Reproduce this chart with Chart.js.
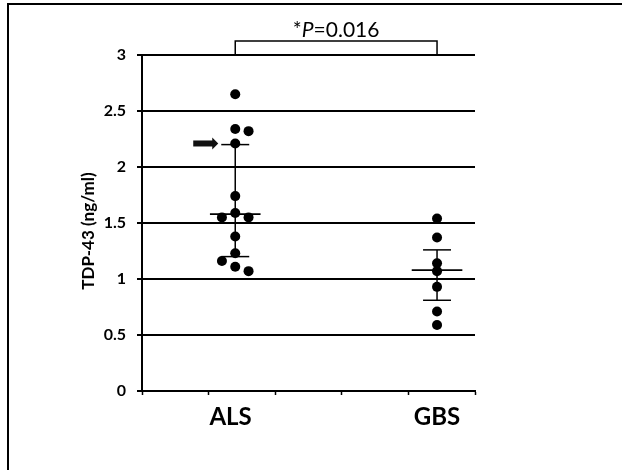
<!DOCTYPE html>
<html>
<head>
<meta charset="utf-8">
<script src="https://cdn.jsdelivr.net/npm/chart.js@4.4.1/dist/chart.umd.min.js"></script>
<style>
  html, body { margin: 0; padding: 0; background: #ffffff; }
  #wrap { width: 631px; height: 470px; position: relative; }
</style>
</head>
<body>
<div id="wrap"><canvas id="c" width="631" height="470"></canvas></div>
<script>
// ---- data ----
const categories = ['ALS', 'GBS'];
const categoryPos = [1.4, 4.43];      // x position of each group on the 0..5 axis
const labelPos = [1.33, 4.43];        // where each group label sits
const alsValues = [2.65, 2.34, 2.32, 2.21, 1.74, 1.59, 1.55, 1.55, 1.38, 1.23, 1.16, 1.11, 1.07];
const alsSpread = [0, 0, 1, 0, 0, 0, -1, 1, 0, 0, -1, 0, 1];
const gbsValues = [1.54, 1.37, 1.14, 1.07, 0.93, 0.71, 0.59];
const gbsSpread = [0, 0, 0, 0, 0, 0, 0];
const centerLine = [1.58, 1.08];
const lowerBar = [1.20, 0.81];
const upperBar = [2.20, 1.26];
const yTicks = [0, 0.5, 1, 1.5, 2, 2.5, 3];
const xTicks = [0, 1, 2, 3, 4, 5];
const yTitle = 'TDP-43 (ng/ml)';
const pValue = '0.016';
const arrowValue = 2.21;

// ---- build datasets ----
const SPREAD = 0.2, MED_HALF = 0.38, CAP_HALF = 0.21;
const groups = [
  { values: alsValues, spread: alsSpread },
  { values: gbsValues, spread: gbsSpread }
];
const pointData = [];
groups.forEach((g, gi) => {
  g.values.forEach((v, i) => pointData.push({ x: categoryPos[gi] + g.spread[i] * SPREAD, y: v }));
});

const datasets = [{
  type: 'scatter',
  data: pointData,
  backgroundColor: '#000',
  borderColor: '#000',
  pointRadius: 5,
  pointHoverRadius: 5,
  borderWidth: 0
}];
function seg(a, b, w) {
  datasets.push({
    type: 'line',
    data: [a, b],
    borderColor: '#000',
    borderWidth: w,
    pointRadius: 0,
    fill: false,
    showLine: true
  });
}
categoryPos.forEach((cx, gi) => {
  seg({ x: cx, y: lowerBar[gi] }, { x: cx, y: upperBar[gi] }, 1.5);
  seg({ x: cx - CAP_HALF, y: upperBar[gi] }, { x: cx + CAP_HALF, y: upperBar[gi] }, 1.5);
  seg({ x: cx - CAP_HALF, y: lowerBar[gi] }, { x: cx + CAP_HALF, y: lowerBar[gi] }, 1.5);
  seg({ x: cx - MED_HALF, y: centerLine[gi] }, { x: cx + MED_HALF, y: centerLine[gi] }, 1.8);
});

const FONT = 'Lato, "Open Sans", "DejaVu Sans", sans-serif';

const decor = {
  id: 'decor',
  beforeDraw(chart) {
    const ctx = chart.ctx;
    ctx.save();
    ctx.fillStyle = '#fff';
    ctx.fillRect(0, 0, chart.width, chart.height);
    ctx.strokeStyle = '#000';
    ctx.lineWidth = 2;
    ctx.beginPath();
    ctx.moveTo(8, 470);
    ctx.lineTo(8, 4);
    ctx.lineTo(622, 4);
    ctx.stroke();
    ctx.restore();
  },
  afterDraw(chart) {
    const ctx = chart.ctx;
    const xs = chart.scales.x, ys = chart.scales.y;
    ctx.save();
    // y-axis title
    ctx.fillStyle = '#000';
    ctx.font = 'bold 17px ' + FONT;
    ctx.textAlign = 'center';
    ctx.textBaseline = 'middle';
    ctx.translate(89, 231);
    ctx.rotate(-Math.PI / 2);
    ctx.fillText(yTitle, 0, 0);
    ctx.restore();

    // significance bracket
    ctx.save();
    const x1 = xs.getPixelForValue(categoryPos[0]);
    const x2 = xs.getPixelForValue(categoryPos[1]);
    const top = chart.chartArea.top;
    const by = top - 14;
    ctx.strokeStyle = '#000';
    ctx.lineWidth = 1.5;
    ctx.beginPath();
    ctx.moveTo(x1, top);
    ctx.lineTo(x1, by);
    ctx.lineTo(x2, by);
    ctx.lineTo(x2, top);
    ctx.stroke();
    const parts = [
      { t: '*', f: '21px ' + FONT },
      { t: 'P', f: 'italic 21px ' + FONT },
      { t: '=' + pValue, f: '21px ' + FONT }
    ];
    let total = 0;
    parts.forEach(p => { ctx.font = p.f; p.w = ctx.measureText(p.t).width; total += p.w; });
    let tx = (x1 + x2) / 2 - total / 2;
    ctx.fillStyle = '#000';
    ctx.textAlign = 'left';
    ctx.textBaseline = 'alphabetic';
    parts.forEach(p => { ctx.font = p.f; ctx.fillText(p.t, tx, by - 4); tx += p.w; });
    ctx.restore();

    // arrow pointing at a highlighted ALS value
    ctx.save();
    const ay = ys.getPixelForValue(arrowValue);
    const tip = xs.getPixelForValue(categoryPos[0]) - 17;
    ctx.fillStyle = '#111';
    ctx.fillRect(tip - 25, ay - 3, 20, 6);
    ctx.beginPath();
    ctx.moveTo(tip - 6, ay - 6);
    ctx.lineTo(tip, ay);
    ctx.lineTo(tip - 6, ay + 6);
    ctx.closePath();
    ctx.fill();
    ctx.restore();
  }
};

new Chart(document.getElementById('c'), {
  data: { datasets },
  options: {
    responsive: false,
    animation: false,
    events: [],
    layout: { padding: { top: 55, right: 156, left: 0, bottom: 0 } },
    plugins: { legend: { display: false }, tooltip: { enabled: false }, title: { display: false } },
    scales: {
      x: {
        type: 'linear',
        min: 0,
        max: 5,
        afterBuildTicks(scale) {
          const t = xTicks.map(v => ({ value: v }));
          labelPos.forEach(v => t.push({ value: v }));
          t.sort((a, b) => a.value - b.value);
          scale.ticks = t;
        },
        afterFit(scale) { scale.height = 79; },
        grid: {
          drawOnChartArea: false,
          tickLength: 4,
          tickWidth: 1.5,
          tickColor: ctx => (ctx.tick && labelPos.includes(ctx.tick.value)) ? 'rgba(0,0,0,0)' : '#000'
        },
        border: { color: '#000', width: 2 },
        ticks: {
          autoSkip: false,
          maxRotation: 0,
          padding: 8,
          color: '#000',
          font: { family: FONT, size: 24, weight: 'bold' },
          callback: v => {
            const i = labelPos.indexOf(v);
            return i >= 0 ? categories[i] : '';
          }
        }
      },
      y: {
        type: 'linear',
        min: 0,
        max: 3,
        afterBuildTicks(scale) { scale.ticks = yTicks.map(v => ({ value: v })); },
        afterFit(scale) { scale.width = 142; },
        grid: { color: '#000', lineWidth: 2, tickLength: 5, tickColor: '#000', tickWidth: 2 },
        border: { color: '#000', width: 2 },
        ticks: {
          padding: 11,
          color: '#000',
          font: { family: FONT, size: 16, weight: 'bold' },
          callback: v => String(v)
        }
      }
    }
  },
  plugins: [decor]
});
</script>
</body>
</html>
